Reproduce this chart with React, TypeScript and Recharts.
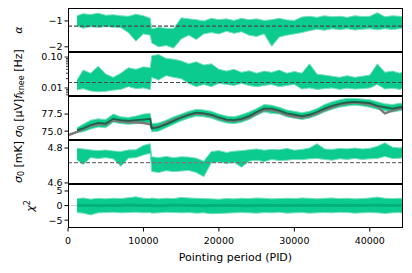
import React from "react";
import { ComposedChart, Area, Line, XAxis, YAxis, ReferenceLine } from "recharts";

const PID = [
  1200, 2000, 3000, 4000, 5000, 6000, 7000, 8000, 9000, 10000, 10900, 11100,
  12000, 13000, 14000, 15000, 16000, 17000, 18000, 19000, 20000, 21000, 22000,
  23000, 24000, 25000, 26000, 27000, 28000, 29000, 30000, 31000, 32000, 33000,
  34000, 35000, 36000, 37000, 38000, 39000, 40000, 41000, 42000, 43000, 44000, 44400
];

const ALPHA_HI = [
  -0.8, -0.72, -0.75, -0.7, -0.78, -0.76, -0.8, -0.82, -0.74, -0.8, -0.9, -1.3,
  -1.25, -1.28, -1.3, -0.88, -0.92, -0.95, -1.0, -0.9, -0.95, -0.92, -0.98,
  -0.9, -0.95, -0.92, -0.98, -0.95, -0.9, -0.96, -0.98, -0.85, -0.82, -0.86,
  -0.8, -0.84, -0.82, -0.86, -0.8, -0.83, -0.82, -0.68, -0.84, -0.8, -0.82, -0.85
];
const ALPHA_LO = [
  -1.2, -1.28, -1.22, -1.25, -1.22, -1.24, -1.26, -1.45, -1.78, -1.5, -1.55, -1.85,
  -2.0, -1.95, -2.05, -1.7, -1.55, -1.72, -1.5, -1.45, -1.5, -1.4, -1.48,
  -1.42, -1.55, -1.6, -1.5, -1.98, -1.62, -1.55, -1.5, -1.45, -1.38, -1.32,
  -1.36, -1.3, -1.34, -1.3, -1.35, -1.32, -1.3, -1.34, -1.3, -1.33, -1.3, -1.28
];
const ALPHA_REF = -1.2;

const KNEE_HI = [
  0.018, 0.038, 0.03, 0.05, 0.028, 0.022, 0.03, 0.045, 0.04, 0.048, 0.045, 0.11,
  0.12, 0.09, 0.085, 0.075, 0.06, 0.07, 0.055, 0.06, 0.04, 0.035, 0.04,
  0.032, 0.036, 0.03, 0.035, 0.032, 0.038, 0.03, 0.034, 0.03, 0.06, 0.028,
  0.026, 0.024, 0.022, 0.025, 0.022, 0.024, 0.026, 0.06, 0.032, 0.035, 0.03, 0.034
];
const KNEE_LO = [
  0.0086, 0.0095, 0.008, 0.0075, 0.0078, 0.0085, 0.009, 0.011, 0.0095, 0.01, 0.0088, 0.022,
  0.018, 0.025, 0.022, 0.02, 0.014, 0.011, 0.013, 0.011, 0.014, 0.013, 0.012,
  0.014, 0.012, 0.011, 0.012, 0.013, 0.011, 0.012, 0.013, 0.0092, 0.01, 0.009,
  0.0095, 0.01, 0.009, 0.0098, 0.0092, 0.0095, 0.01, 0.013, 0.0092, 0.0098, 0.009, 0.01
];
const KNEE_REF = 0.015;
const KNEE_TICKS = [0.006, 0.007, 0.008, 0.009, 0.01, 0.02, 0.03, 0.04, 0.05, 0.06, 0.07, 0.08, 0.09, 0.1];

const SUV_MEAN = [
  75.1, 75.4, 75.9, 76.2, 76.1, 76.8, 76.6, 76.5, 76.6, 76.7, 76.8, 75.4,
  75.6, 76.0, 76.5, 77.0, 77.4, 77.7, 77.6, 77.4, 77.0, 76.7, 76.6,
  76.8, 77.2, 77.8, 78.3, 78.3, 78.0, 77.6, 77.4, 77.2, 77.4, 77.8,
  78.3, 78.7, 79.0, 79.2, 79.3, 79.2, 79.1, 78.7, 78.5, 78.3, 78.5, 78.6
];
const SUV_LO = [
  74.8, 74.9, 75.3, 75.6, 75.5, 76.3, 76.1, 76.0, 76.1, 76.2, 76.2, 74.9,
  75.0, 75.5, 76.0, 76.5, 76.9, 77.2, 77.1, 76.9, 76.5, 76.2, 76.1,
  76.3, 76.7, 77.3, 77.8, 77.6, 77.5, 77.1, 76.9, 76.7, 76.9, 77.3,
  77.8, 78.2, 78.5, 78.7, 78.8, 78.7, 78.5, 78.2, 78.0, 77.8, 78.0, 78.1
];
const SUV_HI = [
  75.5, 76.0, 76.6, 76.8, 76.7, 77.5, 77.1, 77.0, 77.2, 77.5, 77.6, 76.1,
  76.2, 76.6, 77.1, 77.5, 77.9, 78.2, 78.1, 77.9, 77.5, 77.2, 77.1,
  77.4, 77.8, 78.3, 78.9, 78.8, 78.5, 78.1, 77.9, 77.7, 77.9, 78.3,
  78.9, 79.3, 79.6, 79.8, 79.8, 79.7, 79.6, 79.3, 79.0, 78.9, 79.1, 79.1
];
// grey reference curve, starts at PID 0
const SUV_REF_START = 74.4;
const SUV_REF = [
  74.9, 75.3, 75.8, 76.0, 76.0, 76.6, 76.4, 76.3, 76.3, 76.2, 76.0, 75.5,
  75.6, 76.2, 76.6, 77.0, 77.4, 77.6, 77.5, 77.3, 76.9, 76.6, 76.5,
  76.7, 77.0, 77.6, 78.1, 78.1, 77.8, 77.4, 77.1, 77.0, 77.2, 77.6,
  78.1, 78.5, 78.9, 79.1, 79.2, 79.1, 78.9, 78.6, 77.6, 78.0, 78.3, 78.4
];

const SMK_HI = [
  4.798, 4.795, 4.789, 4.785, 4.789, 4.783, 4.78, 4.789, 4.79, 4.815, 4.825, 4.75,
  4.745, 4.752, 4.745, 4.75, 4.748, 4.742, 4.725, 4.78, 4.785, 4.775, 4.782,
  4.785, 4.79, 4.795, 4.788, 4.792, 4.79, 4.798, 4.788, 4.792, 4.8, 4.825,
  4.795, 4.792, 4.798, 4.795, 4.8, 4.795, 4.798, 4.81, 4.83, 4.805, 4.8, 4.805
];
const SMK_LO = [
  4.731, 4.705, 4.745, 4.74, 4.745, 4.738, 4.695, 4.742, 4.745, 4.76, 4.77, 4.665,
  4.66, 4.67, 4.665, 4.668, 4.672, 4.66, 4.636, 4.715, 4.72, 4.712, 4.718,
  4.69, 4.725, 4.73, 4.722, 4.735, 4.728, 4.73, 4.735, 4.733, 4.738, 4.74,
  4.735, 4.73, 4.738, 4.735, 4.74, 4.735, 4.738, 4.74, 4.752, 4.74, 4.742, 4.745
];
const SMK_REF = 4.716;

const CHI_HI = [
  2.4, 2.6, 2.2, 2.5, 2.3, 2.5, 2.4, 2.7, 3.0, 2.5, 2.4, 2.6,
  2.3, 2.5, 2.4, 2.8, 2.6, 2.5, 2.4, 2.3, 2.2, 2.4, 2.3,
  2.5, 2.4, 2.6, 2.5, 2.3, 2.4, 2.5, 2.4, 2.6, 2.5, 2.3,
  2.5, 2.6, 2.4, 2.5, 2.3, 2.4, 2.6, 2.9, 2.5, 2.4, 2.5, 2.3
];
const CHI_LO = [
  -2.4, -2.6, -3.2, -2.5, -2.4, -2.3, -2.5, -2.4, -2.3, -2.5, -2.4, -2.6,
  -2.5, -2.3, -2.4, -2.5, -2.4, -2.6, -2.5, -2.8, -2.7, -2.6, -2.5,
  -2.4, -2.5, -2.6, -2.4, -2.5, -2.3, -2.6, -2.5, -2.4, -2.6, -2.5,
  -2.4, -2.5, -2.3, -2.4, -2.6, -2.5, -2.4, -2.5, -2.7, -2.5, -2.4, -2.6
];
const CHI_MID = [
  0.1, 0.0, 0.1, -0.1, 0.0, 0.1, 0.0, 0.2, 0.1, 0.0, 0.1, 0.0,
  -0.1, 0.0, 0.1, 0.1, 0.0, 0.0, -0.1, 0.0, 0.0, 0.1, 0.0,
  0.0, -0.1, 0.0, 0.1, 0.0, 0.0, 0.1, 0.0, 0.1, 0.0, 0.0,
  0.1, 0.0, 0.0, 0.1, 0.0, 0.0, 0.1, 0.1, 0.0, 0.0, 0.1, 0.0
];

const X_TICKS = [0, 10000, 20000, 30000, 40000];

const FONT = "DejaVu Sans";
const GREEN = "#0bcb8e";
const FRINGE = "#74e0bd";
const W = 412;
const LEFT = 68;
const RIGHT = 403;
const PANEL_H = 44;
const PANEL_TOP = [8, 52, 96, 140, 184];
const PAD = 6;

const alphaData = PID.map((pid, i) => ({ pid, band: [ALPHA_LO[i], ALPHA_HI[i]] }));
const kneeData = PID.map((pid, i) => ({ pid, band: [KNEE_LO[i], KNEE_HI[i]] }));
const suvData = [
  { pid: 0, ref: SUV_REF_START },
  ...PID.map((pid, i) => ({
    pid,
    band: [SUV_LO[i], SUV_HI[i]],
    mean: SUV_MEAN[i],
    ref: SUV_REF[i]
  }))
];
const smkData = PID.map((pid, i) => ({ pid, band: [SMK_LO[i], SMK_HI[i]] }));
const chiData = PID.map((pid, i) => ({ pid, band: [CHI_LO[i], CHI_HI[i]], mid: CHI_MID[i] }));

const tickStyle = { fontSize: 9.5, fill: "#000", fontFamily: FONT };
const minus = (v: number) => String(v).replace("-", "\u2212");

const KneeTick = (props: any) => {
  const { x, y, payload } = props;
  const v = payload.value;
  const label = v === 0.01 ? "0.01" : v === 0.1 ? "0.10" : null;
  return (
    <g>
      <line x1={LEFT} x2={LEFT - (label ? 3.5 : 2)} y1={y} y2={y} stroke="#000" strokeWidth={0.8} />
      {label && (
        <text x={x} y={y} dy="0.355em" textAnchor="end" {...tickStyle}>
          {label}
        </text>
      )}
    </g>
  );
};

function Panel({ index, data, children, last = false }: any) {
  const h = PAD + PANEL_H + (last ? 45 : PAD);
  return (
    <div style={{ position: "absolute", left: 0, top: PANEL_TOP[index] - PAD }}>
      <ComposedChart
        width={W}
        height={h}
        data={data}
        margin={{ top: PAD, right: W - RIGHT, bottom: last ? 0 : PAD, left: 0 }}
      >
        <XAxis
          dataKey="pid"
          type="number"
          domain={[0, 44400]}
          ticks={X_TICKS}
          hide={!last}
          height={45}
          axisLine={false}
          tickLine={{ stroke: "#000" }}
          tickSize={3.5}
          tickMargin={6}
          tick={tickStyle}
          interval={0}
        />
        {children}
      </ComposedChart>
    </div>
  );
}

const yCommon = {
  width: LEFT,
  type: "number" as const,
  allowDataOverflow: true,
  axisLine: false,
  tickLine: { stroke: "#000" },
  tickSize: 3.5,
  tickMargin: 2,
  tick: tickStyle,
  interval: 0 as const
};

const band = (
  <Area dataKey="band" stroke={FRINGE} strokeWidth={1} fill={GREEN} fillOpacity={1} isAnimationActive={false} />
);

export default function App() {
  const labelY = (i: number) => PANEL_TOP[i] + PANEL_H / 2;
  return (
    <div style={{ position: "absolute", left: 0, top: 0, width: W, height: 273, background: "#fff", fontFamily: FONT }}>
      <Panel index={0} data={alphaData}>
        <YAxis {...yCommon} domain={[-2.2, -0.5]} ticks={[-2, -1]} tickFormatter={minus} />
        {band}
        <ReferenceLine y={ALPHA_REF} stroke="#4a4a4a" strokeDasharray="4 2" strokeWidth={1.2} />
      </Panel>

      <Panel index={1} data={kneeData}>
        <YAxis
          {...yCommon}
          scale="log"
          domain={[0.0055, 0.145]}
          ticks={KNEE_TICKS}
          tickLine={false}
          tick={<KneeTick />}
        />
        {band}
        <ReferenceLine y={KNEE_REF} stroke="#4a4a4a" strokeDasharray="4 2" strokeWidth={1.2} />
      </Panel>

      <Panel index={2} data={suvData}>
        <YAxis {...yCommon} domain={[73.7, 80.15]} ticks={[75, 77.5]} tickFormatter={(v: number) => v.toFixed(1)} />
        {band}
        <Line dataKey="ref" stroke="#7a7a7a" strokeWidth={2.5} dot={false} isAnimationActive={false} />
        <Line dataKey="mean" stroke="#1d6046" strokeWidth={1.8} dot={false} isAnimationActive={false} />
      </Panel>

      <Panel index={3} data={smkData}>
        <YAxis {...yCommon} domain={[4.594, 4.846]} ticks={[4.6, 4.8]} tickFormatter={(v: number) => v.toFixed(1)} />
        {band}
        <ReferenceLine y={SMK_REF} stroke="#777" strokeDasharray="4 2" strokeWidth={1.2} />
      </Panel>

      <Panel index={4} data={chiData} last>
        <YAxis {...yCommon} domain={[-7.7, 7.4]} ticks={[-5, 0, 5]} tickFormatter={minus} />
        <ReferenceLine y={0} stroke="#cfcfcf" strokeWidth={1} />
        {band}
        <Line dataKey="mid" stroke="#02b27c" strokeWidth={3} dot={false} isAnimationActive={false} />
      </Panel>

      <svg width={W} height={273} style={{ position: "absolute", left: 0, top: 0, pointerEvents: "none" }}>
        {PANEL_TOP.map((t) => (
          <rect key={t} x={LEFT + 0.5} y={t + 0.5} width={RIGHT - LEFT - 1} height={PANEL_H - 1} fill="none" stroke="#000" strokeWidth={1} />
        ))}
        <g fontFamily={FONT} fontSize={11} fill="#000">
          <text x={22} y={labelY(0)} textAnchor="middle" fontStyle="italic" transform={`rotate(-90 22 ${labelY(0)})`}>
            α
          </text>
          <text x={22} y={labelY(1)} textAnchor="middle" transform={`rotate(-90 22 ${labelY(1)})`}>
            <tspan fontStyle="italic">f</tspan>
            <tspan fontSize={8} dy={2}>knee</tspan>
            <tspan dy={-2}> [Hz]</tspan>
          </text>
          <text x={22} y={labelY(2)} textAnchor="middle" transform={`rotate(-90 22 ${labelY(2)})`}>
            <tspan fontStyle="italic">σ</tspan>
            <tspan fontSize={8} dy={2}>0</tspan>
            <tspan dy={-2}> [μV]</tspan>
          </text>
          <text x={22} y={labelY(3)} textAnchor="middle" transform={`rotate(-90 22 ${labelY(3)})`}>
            <tspan fontStyle="italic">σ</tspan>
            <tspan fontSize={8} dy={2}>0</tspan>
            <tspan dy={-2}> [mK]</tspan>
          </text>
          <text x={34} y={labelY(4)} textAnchor="middle" transform={`rotate(-90 34 ${labelY(4)})`}>
            <tspan fontStyle="italic">χ</tspan>
            <tspan fontSize={8} dy={-4}>2</tspan>
          </text>
          <text x={(LEFT + RIGHT) / 2} y={261} textAnchor="middle">
            Pointing period (PID)
          </text>
        </g>
      </svg>
    </div>
  );
}
